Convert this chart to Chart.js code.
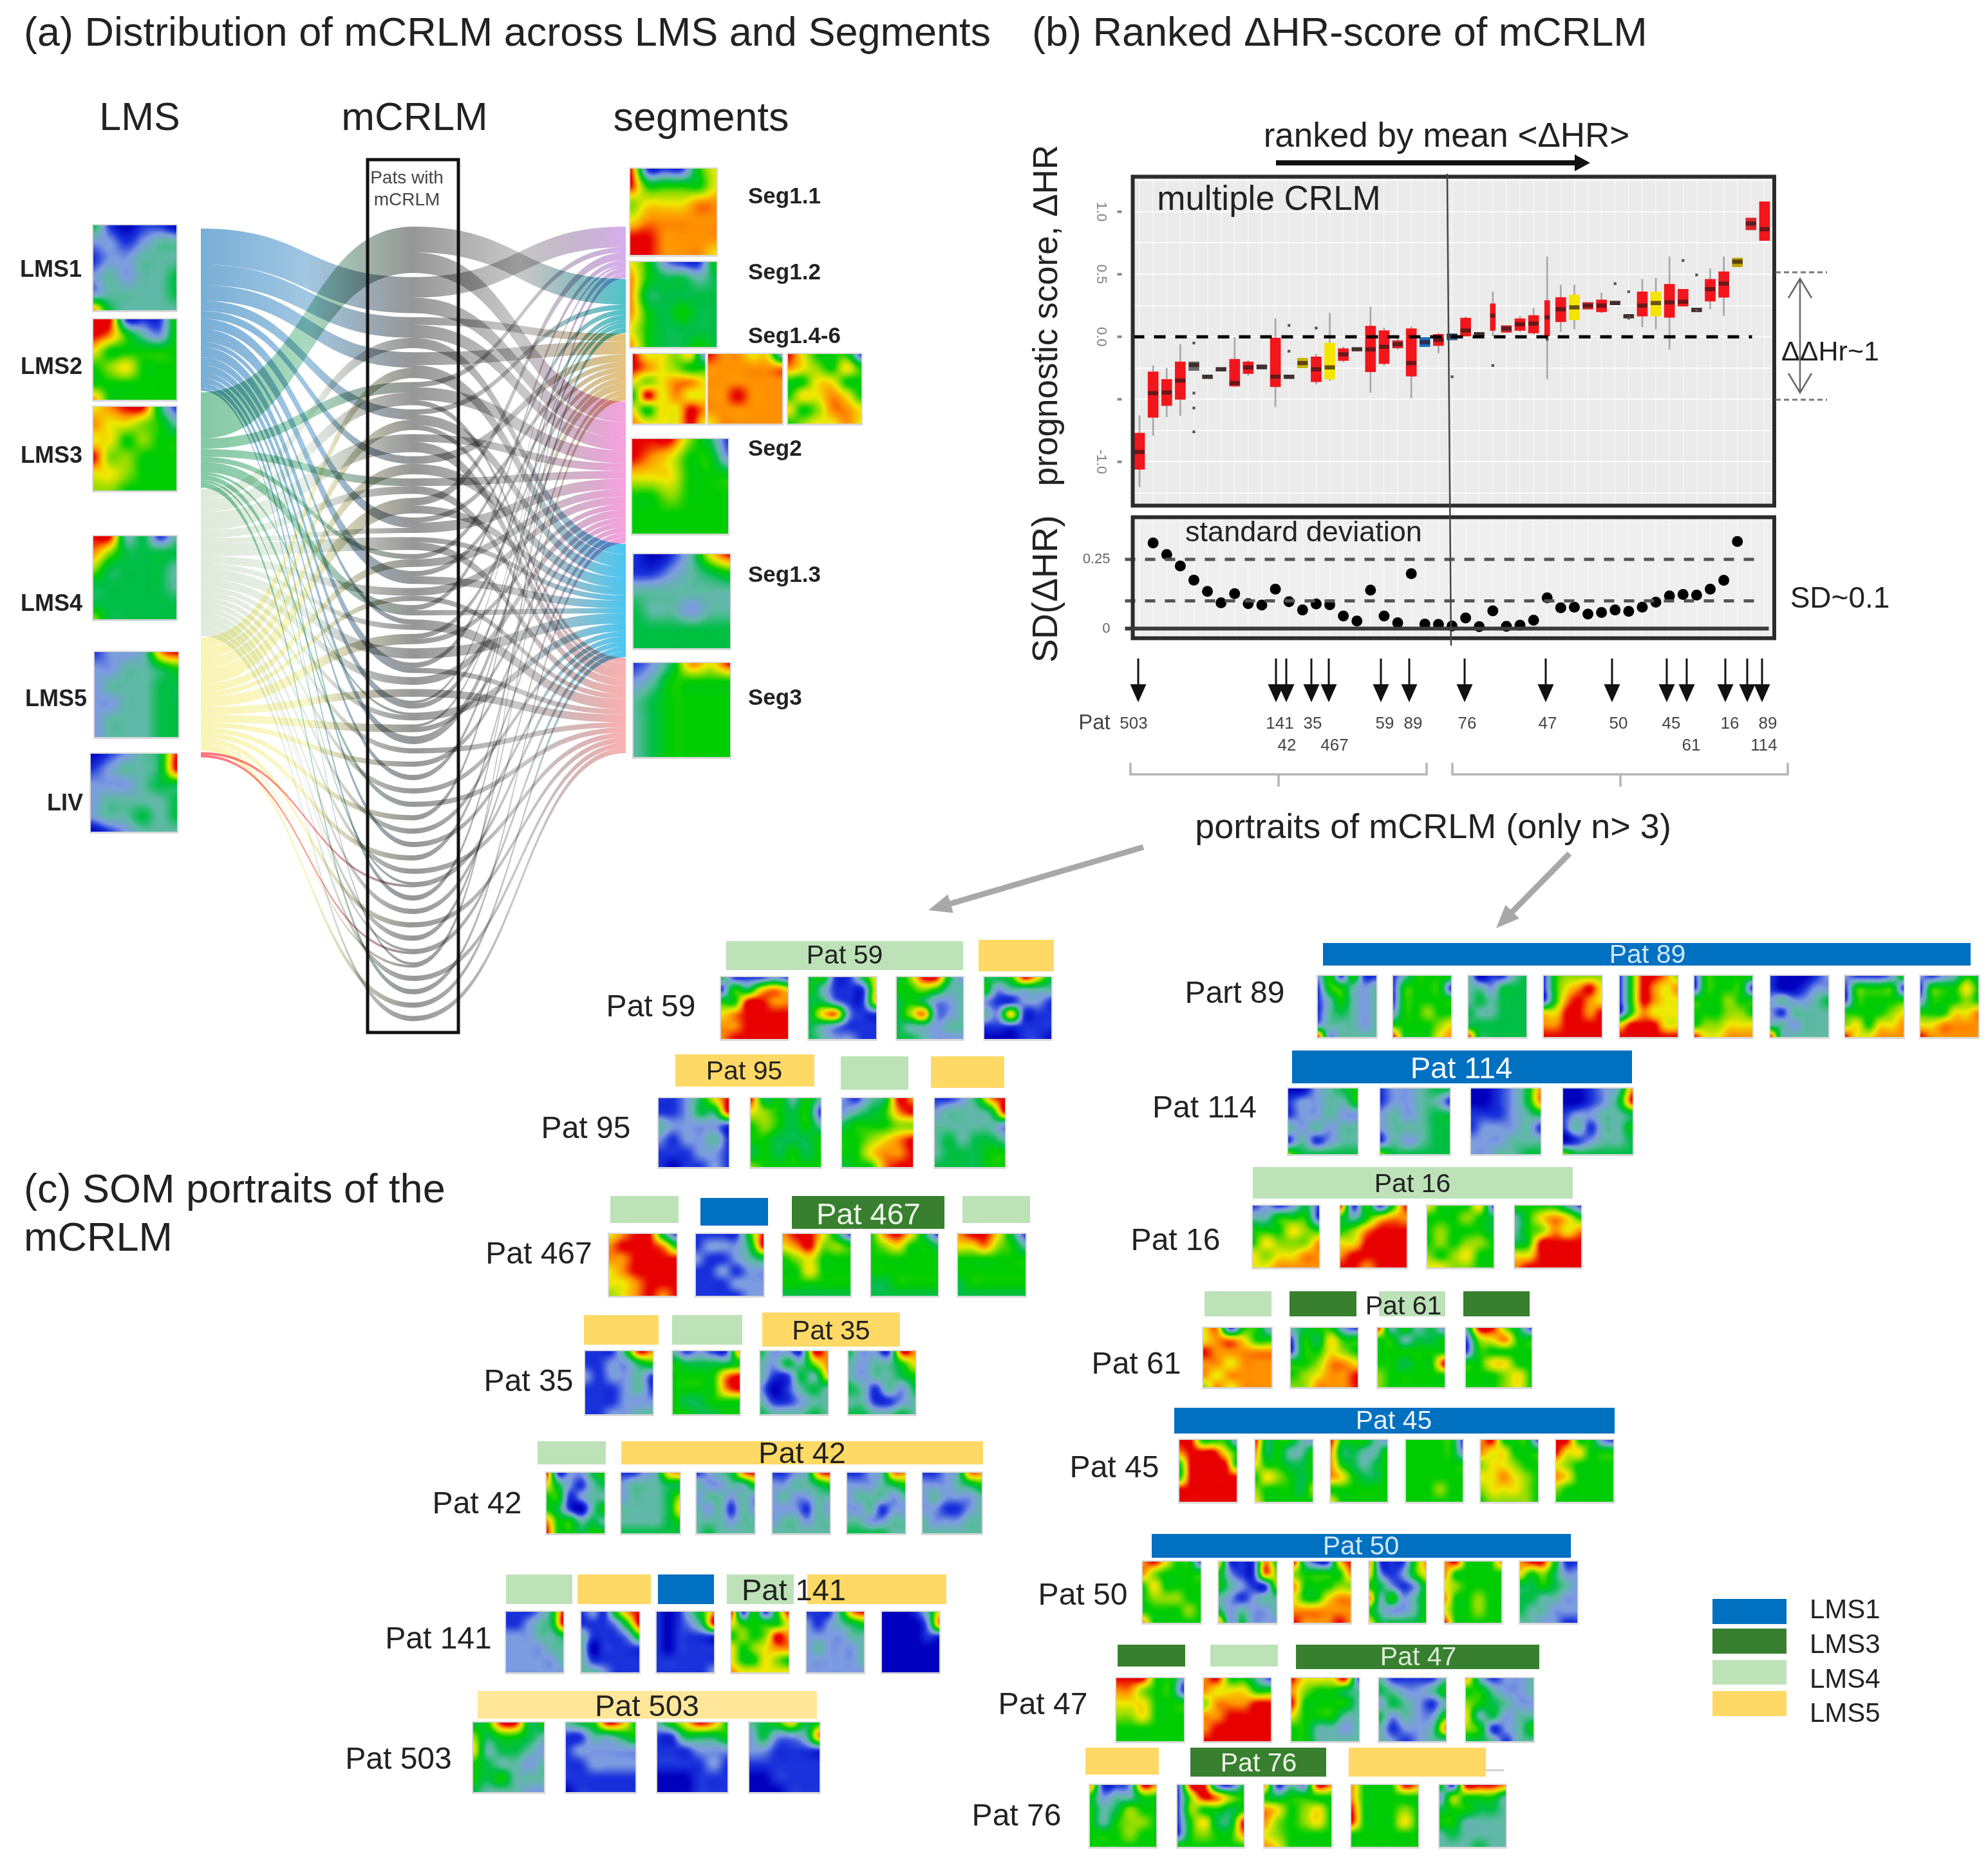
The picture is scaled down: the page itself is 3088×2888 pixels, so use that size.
<!DOCTYPE html>
<html>
<head>
<meta charset="utf-8">
<title>mCRLM</title>
<script src="https://cdn.jsdelivr.net/npm/chart.js@4"></script>
<style>
  html, body { margin: 0; background: #fff; }
  #page { position: relative; width: 3088px; height: 2888px; overflow: hidden; background: #fff; font-family: "Liberation Sans", Arial, sans-serif; }
  #page canvas { position: absolute; }
  .t { position: absolute; white-space: pre; line-height: 1; color: #222; }
</style>
</head>
<body>
<div id="page">
  <canvas id="flowChart" width="660" height="1238" style="left:312px;top:352px"></canvas>
  <canvas id="boxChart" width="1090" height="540" style="left:1680px;top:260px"></canvas>
  <canvas id="sdChart" width="1090" height="205" style="left:1680px;top:795px"></canvas>
  <canvas id="figure" width="3088" height="2888" style="left:0;top:0;pointer-events:none"></canvas>
</div>
<script>
// --- panel (b): ranked dHR boxes, one rank per patient ---
const ranks = ["1","2","3","4","5","6","7","8","9","10","11","12","13","14","15","16","17","18","19","20","21","22","23","24",
  "25","26","27","28","29","30","31","32","33","34","35","36","37","38","39","40","41","42","43","44","45","46","47"];
const boxQ1 = [-1.06,-0.645,-0.55,-0.50,-0.27,-0.335,-0.275,-0.395,-0.295,-0.26,-0.40,-0.335,-0.25,-0.36,-0.34,-0.19,-0.11,-0.28,-0.215,-0.09,-0.315,-0.08,-0.07,-0.025,
  0.005,0.005,0.05,0.035,0.05,0.03,0,0.12,0.135,0.22,0.20,0.255,0.15,0.165,0.165,0.155,0.245,0.20,0.285,0.315,0.56,0.855,0.77];
const boxQ3 = [-0.77,-0.28,-0.34,-0.20,-0.20,-0.305,-0.245,-0.18,-0.20,-0.225,-0.01,-0.305,-0.17,-0.16,-0.05,-0.095,-0.085,0.086,0.05,-0.03,0.065,-0.005,0.02,0.025,
  0.15,0.035,0.265,0.09,0.145,0.17,0.29,0.315,0.335,0.275,0.295,0.285,0.18,0.36,0.36,0.42,0.38,0.23,0.46,0.52,0.63,0.95,1.08];
const boxMedian = [-0.92,-0.45,-0.445,-0.35,-0.225,-0.32,-0.26,-0.37,-0.245,-0.24,-0.32,-0.32,-0.21,-0.26,-0.245,-0.14,-0.10,-0.10,-0.08,-0.06,-0.21,-0.043,-0.025,0.005,
  0.05,0.02,0.17,0.065,0.10,0.105,0.155,0.22,0.235,0.25,0.25,0.27,0.165,0.25,0.27,0.275,0.28,0.215,0.38,0.425,0.60,0.905,0.86];
const whiskerLow = [-1.20,-0.79,-0.64,-0.63,null,null,null,-0.40,-0.31,null,-0.56,null,null,-0.38,-0.35,-0.20,null,-0.445,-0.23,-0.10,-0.49,null,-0.13,null,
  0,null,0,null,0.04,0.02,-0.34,0.04,0.06,null,0.19,null,null,0.08,0.06,-0.10,null,null,0.22,0.17,null,null,null];
const whiskerHigh = [-0.63,-0.23,-0.25,-0.06,null,null,null,0,-0.19,null,0.145,null,null,-0.14,0.19,-0.08,null,0.24,0.07,-0.015,0.08,null,0.03,null,
  0.16,null,0.36,null,0.165,0.23,0.64,0.415,0.415,null,0.35,null,null,0.46,0.47,0.64,null,null,0.545,0.64,0.685,null,1.22];
const boxColors = ["#f2161c","#f2161c","#f2161c","#f2161c","#6a6a6a","#6a6a6a","#6a6a6a","#f2161c","#f2161c","#6a6a6a","#f2161c","#6a6a6a","#c9b400","#f2161c","#f5e400","#f2161c",
  "#6a6a6a","#f2161c","#f2161c","#d8262c","#f2161c","#1a6fc0","#f2161c","#2a5f98","#f2161c","#6a6a6a","#f2161c","#d8262c","#f2161c","#f2161c","#f2161c","#f2161c","#f5e400",
  "#d8262c","#f2161c","#6a6a6a","#6a6a6a","#f2161c","#f5e400","#f2161c","#f2161c","#6a6a6a","#f2161c","#f2161c","#b8a400","#d8262c","#f2161c"];
const narrowRanks = ["27","31"];
const outlierRanks = ["5","5","5","5","12","12","14","24","27","31","36","37","37","41","42","42"];
const outlierValues = [-0.05,-0.45,-0.57,-0.76,0.09,-0.115,0.07,-0.32,-0.23,-0.02,0.425,0.36,0.15,0.61,0.495,0.21];
const boxTickValues = [1, 0.5, 0, -1];
const boxTickLabels = ["1.0", "0.5", "0.0", "-1.0"];
const boxTickMarks = [1, 0.5, 0, -0.5, -1];
const sdValues = [null,0.309,0.267,0.226,0.175,0.134,0.093,0.126,0.09,0.085,0.142,0.097,0.067,0.089,0.086,0.045,0.027,0.139,0.045,0.021,0.198,0.016,0.015,0.009,
  0.038,0.007,0.064,0.008,0.012,0.03,0.111,0.075,0.077,0.052,0.058,0.067,0.062,0.077,0.095,0.118,0.123,0.121,0.142,0.174,0.314,null,null];
const sdTickValues = [0, 0.25];
const sdRefLines = [0.25, 0.1];

// --- panel (a): samples per patient, from LMS and into segments ---
const lmsNames = ["LMS1", "LMS3", "LMS4", "LMS5", "LIV"];
const segNames = ["Seg1.1", "Seg1.2", "Seg1.4-6", "Seg2", "Seg1.3", "Seg3"];
const patientLms = [[[1,18]],[[0,14]],[[0,8],[2,4]],[[0,6],[3,4]],[[1,4],[2,5]],[[0,4],[3,4]],[[2,7]],[[0,3],[3,4]],[[1,3],[2,3]],[[3,6]],[[0,4],[2,2]],[[2,5]],
  [[1,2],[3,3]],[[0,5]],[[2,3],[3,2]],[[1,4]],[[0,2],[2,2]],[[3,4]],[[2,4]],[[0,4]],[[2,3]],[[3,3]],[[0,3]],[[1,1],[2,2]],[[3,3]],[[0,3]],
  [[2,2]],[[3,2]],[[0,2]],[[2,2]],[[1,2]],[[3,2]],[[2,2]],[[0,2]],[[3,2]],[[2,2]],[[1,1],[4,1]],[[0,2]],[[2,2]],[[3,2]],[[2,2]],[[2,1],[4,1]],[[0,1],[3,1]],[[2,2]],[[1,2]],[[3,2]],[[2,2]]];
const patientSeg = [[[1,10],[3,8]],[[0,8],[3,6]],[[2,3],[3,5],[4,4]],[[2,5],[4,5]],[[0,2],[3,5],[5,2]],[[1,2],[4,4],[5,2]],[[3,3],[5,4]],[[2,3],[4,4]],[[3,3],[5,3]],[[0,3],[4,3]],[[2,2],[3,4]],[[4,2],[5,3]],
  [[1,2],[3,3]],[[2,2],[4,3]],[[3,3],[5,2]],[[0,2],[4,2]],[[5,4]],[[2,2],[3,2]],[[4,4]],[[1,2],[5,2]],[[3,3]],[[5,3]],[[0,1],[2,2]],[[4,3]],[[1,1],[3,2]],[[2,3]],
  [[5,2]],[[3,2]],[[1,2]],[[4,2]],[[5,2]],[[0,2]],[[3,2]],[[4,2]],[[2,2]],[[5,2]],[[4,2]],[[1,2]],[[3,2]],[[5,2]],[[2,2]],[[4,2]],[[0,2]],[[5,2]],[[3,2]],[[4,2]],[[5,2]]];

// --- SOM portraits, 6x6 cells, level 0 (deep blue) .. 9 (red) ---
const lmsCells = ["410110/221233/122333/232334/233334/843333","991115/985325/755555/567555/555555/855555","789941/877653/775655/966555/776555/665555",
  "993413/864444/644443/444443/444444/644444","122389/223345/233344/223344/233344/233344","012349/123349/222344/233334/233434/012333"];
const segCells = ["911157/955557/677788/788888/998888/998887","752115/854434/844444/854544/754444/854454","977672/987655/767887/597877/757798/877797",
  "988772/888888/888888/889888/888888/788888","975551/876575/557755/577875/756887/567787","999641/987552/777555/556555/555555/555555",
  "101379/112345/333333/433233/444444/444444","124879/235555/345555/345555/345555/345555"];
const pat59Cells = ["411121/154787/559988/789999/889999/899999","451147/531117/442117/478211/432111/432211","469942/556533/454223/468223/433233/443222","445974/523333/211221/327111/111111/000110"];
const pat95Cells = ["112479/112449/322221/212231/111221/101121","945353/765451/565453/554445/454545/655555","213498/234589/455566/556789/557889/455899","112489/233349/333332/343443/344455/444455"];
const pat467Cells = ["789941/899985/889999/789999/778999/678989","111159/122249/211234/112122/111222/111122","899741/789665/567555/557555/555555/444444","589741/567554/555555/555555/445555/444444","899741/778653/555555/555555/455555/444444"];
const pat35Cells = ["111498/112245/212231/111231/111222/112233","312118/544445/555589/555589/544555/554455","422198/324368/311437/201343/311233/433343","422198/323357/323345/431324/331123/443343"];
const pat42Cells = ["912245/742134/551233/541035/855343/955455","112378/233344/233346/333347/333345/444444","123489/322335/233232/323132/333233/343333","112389/223345/232233/222132/233233/333333","112388/222345/233323/223122/332233/444433","112388/222345/232223/221123/322233/333333"];
const pat141Cells = ["111249/112349/222334/222233/222223/222222","121589/111259/311125/301111/311111/332111","101358/101249/101111/101111/111111/111112","915159/755557/565698/756788/755765/877777","111489/212345/222233/232223/222223/222222","000137/000028/000011/000000/000000/000000"];
const pat503Cells = ["459945/645543/734432/543323/545333/433322","345985/113345/122222/112222/111111/011111","357985/114445/111222/111121/000111/000111","345745/242238/221111/111111/001111/000111"];
const pat89Cells = ["251511/155323/135323/134323/233323/923333","135555/155551/155555/255655/555567/955578","301134/332444/343444/433444/444444/944444","156666/157897/158987/779989/889999/999999","159986/159878/159877/158777/799977/999999","155555/155551/555655/555665/566777/977888","100012/100122/232234/213333/332333/933333","211125/155551/155555/555567/675778/977888","212354/155575/255565/555778/778888/988888"];
const pat114Cells = ["002345/122335/122322/323233/131233/644444","122344/122331/232344/233344/132344/644444","001248/001248/111234/122231/222333/223344","001238/001249/122334/131335/012334/644444"];
const pat16Cells = ["121241/335551/555765/576668/767788/778888","915159/535788/568999/779999/899999/998999","755571/555654/565554/565665/656755/776655","555531/357875/356878/459999/779999/899999"];
const pat61Cells = ["781552/788755/988888/887888/878888/687888","345521/154755/155765/556887/567889/668889","935342/553445/555555/554559/655555/655555","399641/167855/155555/557755/555675/555675"];
const pat45Cells = ["995552/899975/599995/599999/999999/999999","945532/845335/755445/576545/655546/755555","955532/844335/854345/875445/555555/755555","555551/555552/555555/555555/555655/555555","895551/877555/677655/778765/677765/566665","995521/977555/765555/875555/655555/555555"];
const pat50Cells = ["897551/865555/575555/566655/555565/855555","711185/521186/532116/321233/423223/824222","931179/655558/855566/755788/888888/988898","811158/721257/542125/835235/532235/744445","895558/855555/765555/855655/755655/955555","899511/756422/445432/443322/433222/332211"];
const pat47Cells = ["999552/886551/777555/667555/555555/555555","895531/877755/688899/889999/899999/999999","977791/865543/955553/755533/553323/553333","311113/432235/243213/423225/312238/321233","831223/553223/654322/734233/651235/443133"];
const pat76Cells = ["811298/523355/534655/535665/555655/555555","199214/169865/165545/157449/156558/555555","813298/545555/875675/865675/765555/875555","855598/855555/955565/955575/555555/555555","519998/265553/455443/553333/343333/333433"];

// --- styles and layout, not data ---
const tilePalette = [[0,0,190],[25,50,220],[125,155,225],[95,185,165],[0,190,70],[0,205,0],[140,220,0],[240,232,0],[255,145,0],[232,0,0]];
const lmsColors = ["#78aed6", "#84c8a4", "#dfeadc", "#f9f4b4", "#ff7078"];
const segColors = ["#d8aeee", "#4cc4cc", "#e8c47c", "#f8a0e0", "#48c8f4", "#ffb0b0"];
const BLUE = "#0070c0", DARK = "#38802f", PALE = "#bde2b8", GOLD = "#ffd966", CREAM = "#ffe699";

// tile rows: y top, y bottom, [x left, x right] per tile, cells
const tileRows = [
  { y: [350, 482], xs: [[145, 274]], cells: [lmsCells[0]] },
  { y: [496, 621], xs: [[145, 274]], cells: [lmsCells[1]] },
  { y: [632, 762], xs: [[145, 274]], cells: [lmsCells[2]] },
  { y: [833, 962], xs: [[145, 274]], cells: [lmsCells[3]] },
  { y: [1013, 1145], xs: [[147, 277]], cells: [lmsCells[4]] },
  { y: [1171, 1292], xs: [[141, 275]], cells: [lmsCells[5]] },
  { y: [262, 396], xs: [[979, 1113]], cells: [segCells[0]] },
  { y: [407, 539], xs: [[979, 1113]], cells: [segCells[1]] },
  { y: [550, 658], xs: [[983, 1095], [1100, 1215], [1224, 1338]], cells: segCells.slice(2, 5) },
  { y: [682, 829], xs: [[982, 1131]], cells: [segCells[5]] },
  { y: [861, 1007], xs: [[984, 1134]], cells: [segCells[6]] },
  { y: [1030, 1176], xs: [[984, 1134]], cells: [segCells[7]] },
  { y: [1518, 1614], xs: [[1120, 1224], [1256, 1361], [1393, 1496], [1529, 1633]], cells: pat59Cells },
  { y: [1706, 1813], xs: [[1023, 1132], [1166, 1275], [1308, 1418], [1452, 1561]], cells: pat95Cells },
  { y: [1917, 2013], xs: [[946, 1051], [1081, 1186], [1216, 1321], [1353, 1457], [1488, 1593]], cells: pat467Cells },
  { y: [2099, 2197], xs: [[909, 1014], [1045, 1149], [1181, 1286], [1318, 1422]], cells: pat35Cells },
  { y: [2288, 2382], xs: [[849, 939], [965, 1056], [1082, 1172], [1200, 1289], [1316, 1406], [1433, 1525]], cells: pat42Cells },
  { y: [2504, 2598], xs: [[786, 875], [903, 993], [1020, 1109], [1136, 1225], [1253, 1342], [1370, 1459]], cells: pat141Cells },
  { y: [2676, 2784], xs: [[735, 845], [879, 987], [1021, 1130], [1164, 1273]], cells: pat503Cells },
  { y: [1516, 1611], xs: [[2047, 2138], [2164, 2254], [2281, 2371], [2398, 2488], [2516, 2606], [2632, 2722], [2750, 2840], [2866, 2957], [2983, 3073]], cells: pat89Cells },
  { y: [1691, 1793], xs: [[2001, 2109], [2144, 2252], [2285, 2393], [2428, 2536]], cells: pat114Cells },
  { y: [1873, 1969], xs: [[1946, 2049], [2082, 2185], [2217, 2320], [2353, 2456]], cells: pat16Cells },
  { y: [2063, 2155], xs: [[1869, 1975], [2005, 2109], [2140, 2244], [2277, 2379]], cells: pat61Cells },
  { y: [2237, 2333], xs: [[1832, 1921], [1950, 2039], [2067, 2155], [2184, 2272], [2300, 2389], [2417, 2506]], cells: pat45Cells },
  { y: [2426, 2521], xs: [[1775, 1865], [1893, 1983], [2010, 2098], [2127, 2215], [2244, 2332], [2361, 2450]], cells: pat50Cells },
  { y: [2607, 2705], xs: [[1734, 1839], [1870, 1974], [2006, 2111], [2142, 2246], [2277, 2382]], cells: pat47Cells },
  { y: [2773, 2869], xs: [[1693, 1796], [1829, 1932], [1964, 2068], [2099, 2203], [2236, 2339]], cells: pat76Cells }
];

// banners: x left, y top, x right, y bottom, colour
const banners = [
  [1128,1462,1496,1507,PALE],[1520,1460,1637,1509,GOLD],
  [1049,1638,1265,1688,GOLD],[1306,1641,1411,1693,PALE],[1446,1641,1560,1690,GOLD],
  [948,1858,1054,1900,PALE],[1088,1861,1193,1904,BLUE],[1230,1858,1467,1909,DARK],[1495,1858,1600,1900,PALE],
  [907,2043,1023,2089,GOLD],[1044,2043,1153,2089,PALE],[1184,2039,1398,2092,GOLD],
  [835,2239,941,2275,PALE],[965,2239,1527,2275,GOLD],
  [786,2446,889,2492,PALE],[897,2446,1011,2492,GOLD],[1022,2446,1109,2492,BLUE],[1129,2446,1233,2492,PALE],[1254,2446,1470,2492,GOLD],
  [742,2627,1269,2670,CREAM],
  [2055,1465,3061,1500,BLUE],[2007,1632,2535,1683,BLUE],[1946,1813,2443,1862,PALE],
  [1871,2006,1975,2045,PALE],[2003,2006,2107,2045,DARK],[2142,2006,2245,2045,PALE],[2273,2006,2376,2045,DARK],
  [1824,2187,2508,2227,BLUE],[1789,2383,2440,2420,BLUE],
  [1736,2555,1841,2589,DARK],[1880,2555,1985,2589,PALE],[2013,2555,2391,2593,DARK],
  [1686,2715,1800,2757,GOLD],[1849,2715,2060,2760,DARK],[2095,2715,2308,2760,GOLD],
  [2660,2484,2775,2523,BLUE],[2660,2530,2775,2569,DARK],[2660,2579,2775,2617,PALE],[2660,2627,2775,2666,GOLD]
];

const patArrowX = [1768,1982,1998,2037,2064,2145,2189,2275,2401,2504,2589,2620,2680,2714,2737];

// ---------- SOM tile painter ----------
const tileCache = {};
function catmull(a, b, c, d, t) {
  return 0.5 * (2 * b + (c - a) * t + (2 * a - 5 * b + 4 * c - d) * t * t + (3 * b - a - 3 * c + d) * t * t * t);
}
function tileImage(cells) {
  if (tileCache[cells]) return tileCache[cells];
  const grid = cells.split("/").map(r => r.split("").map(Number));
  const res = 48;
  const off = document.createElement("canvas");
  off.width = res; off.height = res;
  const octx = off.getContext("2d");
  const img = octx.createImageData(res, res);
  const at = (r, c) => grid[Math.max(0, Math.min(5, r))][Math.max(0, Math.min(5, c))];
  for (let j = 0; j < res; j++) {
    for (let i = 0; i < res; i++) {
      const u = (i + 0.5) / res * 5, v = (j + 0.5) / res * 5;
      const c0 = Math.floor(u), r0 = Math.floor(v);
      const rowVals = [-1, 0, 1, 2].map(dr =>
        catmull(at(r0 + dr, c0 - 1), at(r0 + dr, c0), at(r0 + dr, c0 + 1), at(r0 + dr, c0 + 2), u - c0));
      let val = catmull(rowVals[0], rowVals[1], rowVals[2], rowVals[3], v - r0);
      val = Math.max(0, Math.min(8.999, val));
      const k = Math.floor(val), f = val - k;
      const p = tilePalette[k], q = tilePalette[k + 1];
      const n = (j * res + i) * 4;
      img.data[n] = p[0] + (q[0] - p[0]) * f;
      img.data[n + 1] = p[1] + (q[1] - p[1]) * f;
      img.data[n + 2] = p[2] + (q[2] - p[2]) * f;
      img.data[n + 3] = 255;
    }
  }
  octx.putImageData(img, 0, 0);
  tileCache[cells] = off;
  return off;
}

function arrow(ctx, x0, y0, x1, y1, lw, headW, headL, color) {
  const a = Math.atan2(y1 - y0, x1 - x0);
  ctx.strokeStyle = color; ctx.fillStyle = color; ctx.lineWidth = lw;
  ctx.beginPath(); ctx.moveTo(x0, y0);
  ctx.lineTo(x1 - Math.cos(a) * headL * 0.8, y1 - Math.sin(a) * headL * 0.8); ctx.stroke();
  ctx.beginPath(); ctx.moveTo(x1, y1);
  ctx.lineTo(x1 - Math.cos(a) * headL - Math.sin(a) * headW / 2, y1 - Math.sin(a) * headL + Math.cos(a) * headW / 2);
  ctx.lineTo(x1 - Math.cos(a) * headL + Math.sin(a) * headW / 2, y1 - Math.sin(a) * headL - Math.cos(a) * headW / 2);
  ctx.closePath(); ctx.fill();
}

// ---------- whole-page layer: tiles, banners, arrows, frames ----------
const figurePlugin = {
  id: "figurePlugin",
  afterDraw(chart) {
    const { ctx } = chart;
    const X = v => chart.scales.x.getPixelForValue(v);
    const Y = v => chart.scales.y.getPixelForValue(v);
    ctx.save();
    banners.forEach(b => {
      ctx.fillStyle = b[4];
      ctx.fillRect(X(b[0]), Y(b[1]), X(b[2]) - X(b[0]), Y(b[3]) - Y(b[1]));
    });
    ctx.imageSmoothingEnabled = true;
    ctx.imageSmoothingQuality = "high";
    tileRows.forEach(row => {
      row.xs.forEach((xr, i) => {
        const l = X(xr[0]), t = Y(row.y[0]), w = X(xr[1]) - l, h = Y(row.y[1]) - t;
        ctx.fillStyle = "#d9d9d9";
        ctx.fillRect(l - 2, t - 2, w + 4, h + 5);
        ctx.drawImage(tileImage(row.cells[i]), l, t, w, h);
      });
    });
    // mCRLM column
    ctx.strokeStyle = "#111"; ctx.lineWidth = 5;
    ctx.strokeRect(X(571), Y(248), X(712) - X(571), Y(1604) - Y(248));
    // rank divider through both panels
    ctx.strokeStyle = "#444"; ctx.lineWidth = 2.5;
    ctx.beginPath(); ctx.moveTo(X(2248), Y(270)); ctx.lineTo(X(2254), Y(1003)); ctx.stroke();
    arrow(ctx, X(1982), Y(253), X(2470), Y(253), 8, 26, 24, "#111");
    patArrowX.forEach(x => arrow(ctx, X(x), Y(1023), X(x), Y(1091), 3, 25, 28, "#111"));
    // dHR span at the right of panel (b)
    ctx.strokeStyle = "#777"; ctx.lineWidth = 3; ctx.setLineDash([8, 5]);
    [423, 621].forEach(y => { ctx.beginPath(); ctx.moveTo(X(2758), Y(y)); ctx.lineTo(X(2838), Y(y)); ctx.stroke(); });
    ctx.setLineDash([]);
    ctx.strokeStyle = "#666"; ctx.lineWidth = 2.5;
    ctx.beginPath(); ctx.moveTo(X(2796), Y(433)); ctx.lineTo(X(2796), Y(610));
    ctx.moveTo(X(2778), Y(463)); ctx.lineTo(X(2796), Y(433)); ctx.lineTo(X(2814), Y(463));
    ctx.moveTo(X(2778), Y(580)); ctx.lineTo(X(2796), Y(610)); ctx.lineTo(X(2814), Y(580));
    ctx.stroke();
    // brackets over the portrait groups
    ctx.strokeStyle = "#b5b5b5"; ctx.lineWidth = 3.5;
    [[1756, 1986, 2216], [2256, 2517, 2777]].forEach(b => {
      ctx.beginPath();
      ctx.moveTo(X(b[0]), Y(1185)); ctx.lineTo(X(b[0]), Y(1203)); ctx.lineTo(X(b[2]), Y(1203)); ctx.lineTo(X(b[2]), Y(1185));
      ctx.moveTo(X(b[1]), Y(1203)); ctx.lineTo(X(b[1]), Y(1222));
      ctx.stroke();
    });
    arrow(ctx, X(1776), Y(1316), X(1442), Y(1414), 9, 30, 36, "#a8a8a8");
    arrow(ctx, X(2438), Y(1326), X(2324), Y(1442), 9, 30, 36, "#a8a8a8");
    ctx.strokeStyle = "#cfcfcf"; ctx.lineWidth = 3;
    ctx.beginPath(); ctx.moveTo(X(2308), Y(2750)); ctx.lineTo(X(2336), Y(2750)); ctx.stroke();
    ctx.restore();
  }
};

new Chart(document.getElementById("figure"), {
  type: "scatter",
  data: { datasets: [{ data: [] }] },
  options: {
    responsive: false, animation: false, devicePixelRatio: 1,
    plugins: { legend: { display: false }, tooltip: { enabled: false } },
    scales: {
      x: { display: false, min: 0, max: 3088 },
      y: { display: false, min: 0, max: 2888, reverse: true }
    }
  },
  plugins: [figurePlugin]
});

// ---------- panel (a): alluvial ----------
const GAP_WIDE_PATIENT = 1.6, GAP_THIN_PATIENT = 3.2;   // white gaps in the middle column
function stackOffsets(counts, start, gap) {
  let y = start;
  return counts.map(n => { const t = y; y += n + (typeof gap === "function" ? gap(n) : gap); return t; });
}
function flowBand(ctx, x0, x1, y0a, y0b, y1a, y1b, fill) {
  const mx = (x0 + x1) / 2;
  ctx.fillStyle = fill;
  ctx.beginPath();
  ctx.moveTo(x0, y0a);
  ctx.bezierCurveTo(mx, y0a, mx, y1a, x1, y1a);
  ctx.lineTo(x1, y1b);
  ctx.bezierCurveTo(mx, y1b, mx, y0b, x0, y0b);
  ctx.closePath();
  ctx.fill();
}
const flowPlugin = {
  id: "flowPlugin",
  beforeDatasetsDraw(chart) {
    const { ctx } = chart;
    const X = chart.scales.x, Y = chart.scales.y;
    const patTotals = patientLms.map(p => p.reduce((s, f) => s + f[1], 0));
    const patTops = stackOffsets(patTotals, 0, n => n > 2 ? GAP_WIDE_PATIENT : GAP_THIN_PATIENT);
    const lmsTotals = lmsNames.map((_, i) => patientLms.flat().filter(f => f[0] === i).reduce((s, f) => s + f[1], 0));
    const segTotals = segNames.map((_, i) => patientSeg.flat().filter(f => f[0] === i).reduce((s, f) => s + f[1], 0));
    const lmsCur = stackOffsets(lmsTotals, 0.75, 0.6);
    const segCur = stackOffsets(segTotals, 0, 0.3);
    const xL = X.getPixelForValue(0), xC = X.getPixelForValue(1), xR = X.getPixelForValue(2);
    ctx.save();
    ctx.globalCompositeOperation = "multiply";
    const drawSide = (lists, cursors, colors, xA, xB, sideLeft) => {
      lists.forEach((flows, p) => {
        let inner = patTops[p];
        flows.forEach(f => {
          const g = ctx.createLinearGradient(xA, 0, xB, 0);
          const c = colors[f[0]];
          g.addColorStop(0, sideLeft ? c : "rgba(100,100,100,0.68)");
          g.addColorStop(0.5, sideLeft ? c + "b0" : "rgba(140,140,140,0.48)");
          g.addColorStop(1, sideLeft ? "rgba(100,100,100,0.68)" : c);
          const a = cursors[f[0]];
          if (sideLeft) {
            flowBand(ctx, xA, xB, Y.getPixelForValue(a), Y.getPixelForValue(a + f[1]), Y.getPixelForValue(inner), Y.getPixelForValue(inner + f[1]), g);
          } else {
            flowBand(ctx, xA, xB, Y.getPixelForValue(inner), Y.getPixelForValue(inner + f[1]), Y.getPixelForValue(a), Y.getPixelForValue(a + f[1]), g);
          }
          cursors[f[0]] += f[1];
          inner += f[1];
        });
      });
    };
    drawSide(patientLms, lmsCur, lmsColors, xL, xC, true);
    drawSide(patientSeg, segCur, segColors, xC, xR, false);
    ctx.restore();
  }
};
new Chart(document.getElementById("flowChart"), {
  type: "scatter",
  data: { datasets: [{ data: [] }] },
  options: {
    responsive: false, animation: false, devicePixelRatio: 1,
    plugins: { legend: { display: false }, tooltip: { enabled: false } },
    scales: {
      x: { display: false, min: 0, max: 2 },
      y: { display: false, min: 0, max: 309.5, reverse: true }
    }
  },
  plugins: [flowPlugin]
});

// ---------- panel (b): boxes ----------
function framePlugin(bg, refLines, lineOpts) {
  return {
    id: "framePlugin",
    beforeDraw(chart) {
      const a = chart.chartArea;
      chart.ctx.fillStyle = bg;
      chart.ctx.fillRect(a.left, a.top, a.right - a.left + 4.5, a.bottom - a.top);
    },
    afterDatasetsDraw(chart) {
      const { ctx, chartArea: a } = chart;
      const y = chart.scales.y;
      ctx.save();
      ctx.strokeStyle = lineOpts.color; ctx.lineWidth = 5; ctx.setLineDash(lineOpts.dash);
      refLines.forEach(v => {
        ctx.beginPath();
        ctx.moveTo(a.left + lineOpts.from, y.getPixelForValue(v));
        ctx.lineTo(a.right - lineOpts.to, y.getPixelForValue(v));
        ctx.stroke();
      });
      ctx.setLineDash([]);
      ctx.strokeStyle = "#2b2b2b"; ctx.lineWidth = 6;
      ctx.strokeRect(a.left, a.top, a.right - a.left + 4.5, a.bottom - a.top);
      ctx.restore();
    }
  };
}
// chart.js reserves room for the first and last tick label; the panels must fill their frames
function fixAxisBox(s) {
  s.width = 79.5;
  s.paddingTop = 0; s.paddingBottom = 0;
}
const stepGrid = { color: "rgba(255,255,255,0.8)", lineWidth: 2, drawTicks: false };
const wideX = {
  offset: true,
  grid: { offset: false, color: "rgba(255,255,255,0.55)", lineWidth: 1.5, drawTicks: false },
  border: { display: false },
  ticks: { display: false }
};
const isNarrow = r => narrowRanks.includes(r);

new Chart(document.getElementById("boxChart"), {
  type: "bar",
  data: {
    labels: ranks,
    datasets: [
      { label: "whisker", order: 4, grouped: false, barThickness: 2, backgroundColor: "rgba(120,120,120,0.6)",
        data: ranks.map((_, i) => whiskerLow[i] === null ? null : [whiskerLow[i], whiskerHigh[i]]) },
      { label: "box", order: 3, grouped: false, barThickness: 16, backgroundColor: boxColors,
        data: ranks.map((r, i) => isNarrow(r) ? null : [boxQ1[i], boxQ3[i]]) },
      { label: "narrow box", order: 3, grouped: false, barThickness: 8, backgroundColor: boxColors,
        data: ranks.map((r, i) => isNarrow(r) ? [boxQ1[i], boxQ3[i]] : null) },
      { label: "median", type: "line", order: 2, showLine: false, data: boxMedian, pointStyle: "line",
        pointRadius: ctx => isNarrow(ranks[ctx.dataIndex]) ? 4 : 8, pointBorderWidth: 6.5, pointBorderColor: "rgba(50,25,25,0.72)" },
      { label: "outlier", type: "line", order: 1, showLine: false, pointStyle: "rect", pointRadius: 3, pointBorderWidth: 0, pointBackgroundColor: "#555",
        data: outlierRanks.map((r, i) => ({ x: r, y: outlierValues[i] })) }
    ]
  },
  options: {
    responsive: false, animation: false, devicePixelRatio: 1,
    layout: { padding: { top: 9, bottom: 13, right: 18.5, left: 0 } },
    plugins: { legend: { display: false }, tooltip: { enabled: false } },
    scales: {
      x: wideX,
      y: {
        min: -1.35, max: 1.28,
        afterFit: fixAxisBox,
        grid: stepGrid,
        border: { display: false },
        ticks: {
          stepSize: 0.25, includeBounds: false, minRotation: 270, maxRotation: 270, crossAlign: "center", padding: 30,
          color: "#808080", font: { size: 22, family: "Liberation Sans" },
          callback: v => { const i = boxTickValues.indexOf(Math.round(v * 100) / 100); return i < 0 ? "" : boxTickLabels[i]; }
        }
      }
    }
  },
  plugins: [
    framePlugin("#ebebeb", [0], { color: "#000", dash: [18, 15], from: 0, to: 30 }),
    { id: "boxTickMarks", afterDraw(chart) {
        const { ctx, chartArea: a } = chart;
        ctx.save(); ctx.fillStyle = "#8a8a8a";
        boxTickMarks.forEach(v => ctx.fillRect(a.left - 24, chart.scales.y.getPixelForValue(v) - 2, 7, 4));
        ctx.restore();
    } }
  ]
});

new Chart(document.getElementById("sdChart"), {
  type: "line",
  data: {
    labels: ranks,
    datasets: [{ label: "SD", data: sdValues, showLine: false, pointRadius: 8.5, pointBorderWidth: 0, pointBackgroundColor: "#000" }]
  },
  options: {
    responsive: false, animation: false, devicePixelRatio: 1, clip: false,
    layout: { padding: { top: 8, bottom: 7.5, right: 18.5, left: 0 } },
    plugins: { legend: { display: false }, tooltip: { enabled: false } },
    scales: {
      x: wideX,
      y: {
        min: -0.035, max: 0.402,
        afterFit: fixAxisBox,
        afterBuildTicks: s => { s.ticks = sdTickValues.map(v => ({ value: v })); },
        grid: { display: false },
        border: { display: false },
        ticks: { padding: 27, color: "#666", font: { size: 22, family: "Liberation Sans" }, callback: v => String(v) }
      }
    }
  },
  plugins: [
    framePlugin("#efefef", sdRefLines, { color: "#555", dash: [16, 15], from: -12, to: 18 }),
    { id: "sdZero", afterDatasetsDraw(chart) {
        const { ctx, chartArea: a } = chart;
        const y = chart.scales.y.getPixelForValue(0);
        ctx.save(); ctx.strokeStyle = "#3a3a3a"; ctx.lineWidth = 6;
        ctx.beginPath(); ctx.moveTo(a.left - 12, y); ctx.lineTo(a.right - 4, y); ctx.stroke(); ctx.restore();
    } }
  ]
});

// ---------- text ----------
const page = document.getElementById("page");
function label(str, x, y, size, o = {}) {
  const el = document.createElement("div");
  el.className = "t";
  el.textContent = str;
  el.style.left = x + "px";
  el.style.top = y + "px";
  el.style.fontSize = size + "px";
  if (o.color) el.style.color = o.color;
  if (o.bold) el.style.fontWeight = "bold";
  const ax = o.left ? "0" : "-50%";
  el.style.transform = `translate(${ax},-50%)` + (o.rot ? ` rotate(${o.rot}deg)` : "");
  page.appendChild(el);
}
label("(a) Distribution of mCRLM across LMS and Segments", 37, 49, 63, { left: true });
label("(b) Ranked ΔHR-score of mCRLM", 1603, 49, 63, { left: true });
label("(c) SOM portraits of the", 37, 1846, 63, { left: true });
label("mCRLM", 37, 1921, 63, { left: true });
label("LMS", 217, 181, 61);
label("mCRLM", 644, 181, 62);
label("segments", 1089, 181, 63);
label("Pats with", 632, 276, 28, { color: "#444" });
label("mCRLM", 632, 310, 28, { color: "#444" });

[["LMS1", 79, 418], ["LMS2", 80, 569], ["LMS3", 80, 707], ["LMS4", 80, 937], ["LMS5", 87, 1085], ["LIV", 101, 1247]]
  .forEach(l => label(l[0], l[1], l[2], 36, { bold: true }));
[["Seg1.1", 303], ["Seg1.2", 421], ["Seg1.4-6", 520], ["Seg2", 695], ["Seg1.3", 891], ["Seg3", 1082]]
  .forEach(l => label(l[0], 1162, l[1], 35, { bold: true, left: true }));

label("ranked by mean <ΔHR>", 2247, 209, 53);
label("multiple CRLM", 1971, 307, 53);
label("standard deviation", 2025, 825, 45);
label("prognostic score, ΔHR", 1623, 490, 53, { rot: -90 });
label("SD(ΔHR)", 1623, 915, 55, { rot: -90 });
label("ΔΔHr~1", 2843, 545, 43);
label("SD~0.1", 2858, 928, 46);
label("portraits of mCRLM (only n> 3)", 2226, 1283, 54);

label("Pat", 1700, 1121, 33, { color: "#444" });
[["503", 1761], ["141", 1988], ["35", 2039], ["59", 2151], ["89", 2195], ["76", 2279], ["47", 2404], ["50", 2514], ["45", 2596], ["16", 2687], ["89", 2746]]
  .forEach(l => label(l[0], l[1], 1123, 26, { color: "#444" }));
[["42", 1999], ["467", 2073], ["61", 2627], ["114", 2740]]
  .forEach(l => label(l[0], l[1], 1157, 26, { color: "#444" }));

// row names left of the portraits
[["Pat 59", 1011, 1563], ["Pat 95", 910, 1752], ["Pat 467", 837, 1947], ["Pat 35", 821, 2145], ["Pat 42", 741, 2335], ["Pat 141", 681, 2545], ["Pat 503", 619, 2732],
 ["Part 89", 1918, 1542], ["Pat 114", 1871, 1720], ["Pat 16", 1826, 1926], ["Pat 61", 1765, 2118], ["Pat 45", 1731, 2279], ["Pat 50", 1682, 2477], ["Pat 47", 1620, 2647], ["Pat 76", 1579, 2820]]
  .forEach(l => label(l[0], l[1], l[2], 48));

// names on the banners
[["Pat 59", 1312, 1483, 41], ["Pat 95", 1156, 1663, 41], ["Pat 467", 1349, 1885, 47, "#eef6ea"], ["Pat 35", 1291, 2067, 42], ["Pat 42", 1246, 2256, 47], ["Pat 141", 1233, 2469, 47], ["Pat 503", 1005, 2649, 47],
 ["Pat 89", 2559, 1482, 41, "#cfe6f8"], ["Pat 114", 2270, 1658, 47, "#f2f8fc"], ["Pat 16", 2194, 1838, 41], ["Pat 61", 2180, 2028, 41], ["Pat 45", 2165, 2206, 41, "#e8f2fa"], ["Pat 50", 2114, 2401, 41, "#cfe6f8"],
 ["Pat 47", 2203, 2573, 41, "#dcebd8"], ["Pat 76", 1955, 2738, 41, "#eef6ea"]]
  .forEach(l => label(l[0], l[1], l[2], l[3], { color: l[4] || "#222" }));

[["LMS1", 2500], ["LMS3", 2554], ["LMS4", 2608], ["LMS5", 2661]]
  .forEach(l => label(l[0], 2811, l[1], 42, { left: true }));
</script>
</body>
</html>
